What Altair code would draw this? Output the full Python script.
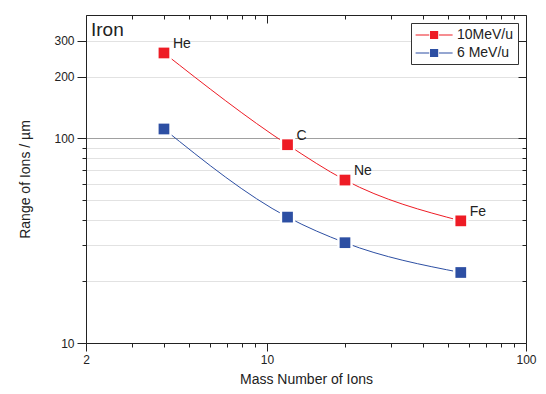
import altair as alt
import pandas as pd

# ---- data ----
mass = [4, 12, 20, 56]
ions = ["He", "C", "Ne", "Fe"]
range_10 = [261, 93, 62.5, 39.5]
range_6 = [111, 41.2, 30.9, 22.1]
series = ["10MeV/u", "6 MeV/u"]
colors = ["#EE1C25", "#2D4FA3"]

y_ticks = [10, 20, 30, 40, 50, 60, 70, 80, 90, 100, 200, 300]
y_labels = [10, 100, 200, 300]
x_ticks = [2, 3, 4, 5, 6, 7, 8, 9, 10, 20, 30, 40, 50, 60, 70, 80, 90, 100]
x_labels = [2, 10, 100]

rows = []
for s, vals in zip(series, [range_10, range_6]):
    for m, ion, v in zip(mass, ions, vals):
        rows.append({"mass": m, "ion": ion, "range": v, "series": s})
df = pd.DataFrame(rows)

W, H = 440, 328
FONT = "Liberation Sans"


def in_list(lst):
    return "indexof([" + ",".join(str(v) for v in lst) + "], datum.value) >= 0"


maj_x = in_list(x_labels)
maj_y = in_list(y_labels)

xscale = alt.Scale(type="log", domain=[2, 100], nice=False)
yscale = alt.Scale(type="log", domain=[10, 400], nice=False)
cscale = alt.Scale(domain=series, range=colors)

# legend glyph: line - square - line (unit = sqrt(size)/2)
glyph = "M-1,0H0.85M2.15,0H4M1.03,-0.47H1.97V0.47H1.03Z"
legend = alt.Legend(
    title=None, orient="top-right", offset=8, strokeColor="#333", fillColor="white",
    padding=4, symbolType=glyph, symbolSize=219, symbolStrokeWidth=1.2,
    labelFontSize=14, labelFont=FONT, labelColor="#222", rowPadding=3, labelOffset=26,
)

x_main = alt.Axis(
    values=x_ticks, labelExpr=f"({maj_x}) ? datum.label : ''", labelOverlap=False,
    labelFlush=False, grid=False, title="Mass Number of Ions", titlePadding=7,
    tickSize={"condition": {"test": maj_x, "value": 8}, "value": 4},
    domainColor="#222", tickColor="#222",
)
y_main = alt.Axis(
    values=y_ticks, labelExpr=f"({maj_y}) ? datum.label : ''", labelOverlap=False,
    grid=True, title="Range of Ions / µm", titlePadding=21,
    tickSize={"condition": {"test": maj_y, "value": 9}, "value": 4},
    gridColor={"condition": {"test": "datum.value == 100", "value": "#808080"}, "value": "#c4c4c4"},
    gridDash={"condition": {"test": "datum.value == 100", "value": [1, 0]}, "value": [1, 1]},
    domainColor="#222", tickColor="#222",
)
x_top = alt.Axis(
    orient="bottom", offset=-H, values=x_ticks, labels=False, title=None, grid=False,
    tickSize={"condition": {"test": maj_x, "value": 8}, "value": 4},
    domainColor="#222", tickColor="#222",
)
y_right = alt.Axis(
    orient="left", offset=-W, values=y_ticks, labels=False, title=None, grid=False,
    tickSize={"condition": {"test": maj_y, "value": 8}, "value": 4},
    domainColor="#222", tickColor="#222",
)

base = alt.Chart(df)

lines = base.mark_line(strokeWidth=1, interpolate="monotone").encode(
    x=alt.X("mass:Q", scale=xscale, axis=x_main),
    y=alt.Y("range:Q", scale=yscale, axis=y_main),
    stroke=alt.Stroke("series:N", scale=cscale, legend=legend, sort=series),
)

frame = base.mark_point(opacity=0).encode(
    x=alt.X("mass:Q", scale=xscale, axis=x_top),
    y=alt.Y("range:Q", scale=yscale, axis=y_right),
)

halo = base.mark_point(shape="square", filled=True, size=240, opacity=1,
                       color="white").encode(
    x=alt.X("mass:Q", scale=xscale, axis=None),
    y=alt.Y("range:Q", scale=yscale, axis=None),
)

points = base.mark_point(shape="square", filled=True, size=115, opacity=1).encode(
    x=alt.X("mass:Q", scale=xscale, axis=None),
    y=alt.Y("range:Q", scale=yscale, axis=None),
    fill=alt.Fill("series:N", scale=cscale, legend=legend, sort=series),
)

labels = base.transform_filter(alt.datum.series == series[0]).mark_text(
    align="left", baseline="middle", dx=9, dy=-9, fontSize=14, font=FONT, color="#222"
).encode(
    x=alt.X("mass:Q", scale=xscale, axis=None),
    y=alt.Y("range:Q", scale=yscale, axis=None),
    text="ion:N",
)

iron = alt.Chart(pd.DataFrame({"t": ["Iron"]})).mark_text(
    align="left", baseline="middle", fontSize=19, font=FONT, color="#222"
).encode(text="t:N", x=alt.value(5), y=alt.value(15))

chart = alt.layer(lines, frame, halo, points, labels, iron).resolve_axis(
    x="independent", y="independent"
).properties(
    width=W, height=H, autosize="none",
    padding={"left": 78, "top": 7, "right": 12, "bottom": 43},
).configure_view(stroke="transparent").configure_axis(
    labelFont=FONT, labelFontSize=12, labelColor="#222", titleFont=FONT,
    titleFontSize=14, titleFontWeight="normal", titleColor="#222", labelPadding=3,
)

chart.save("out.html", embed_options={"renderer": "svg", "actions": False})
